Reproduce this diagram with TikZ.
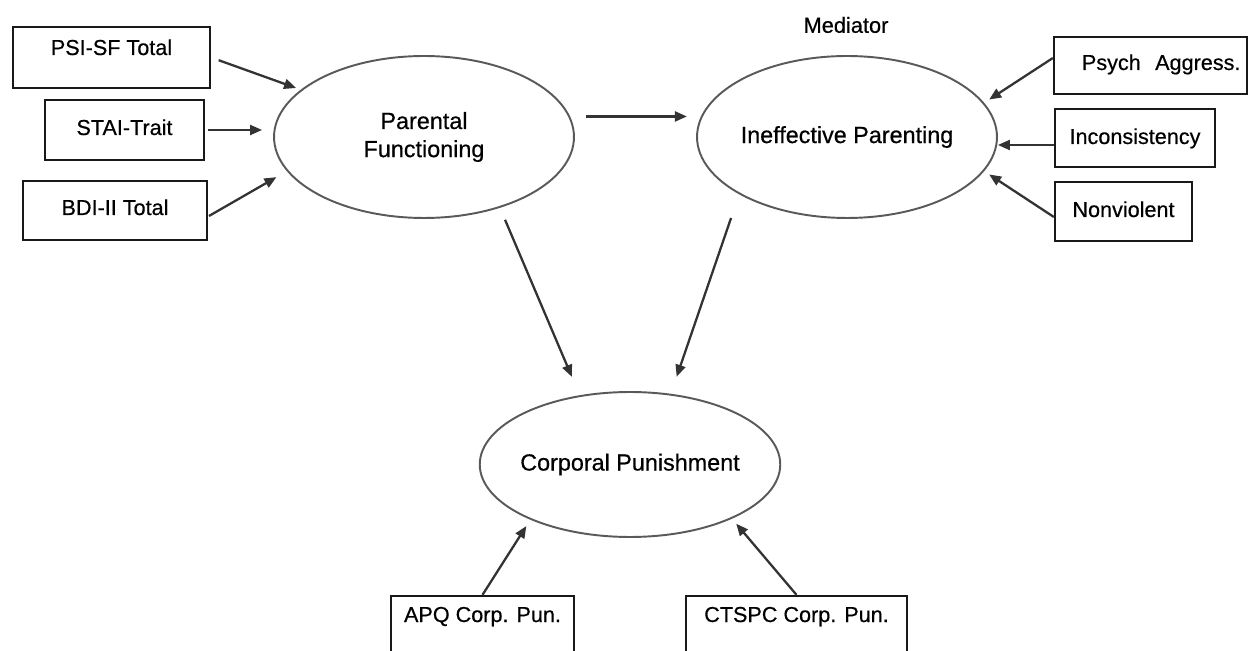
\documentclass[tikz,border=0pt]{standalone}
\usepackage{fontspec}
\setmainfont{Liberation Sans}[FakeBold=0.5]
\usetikzlibrary{arrows.meta, shapes}

\begin{document}
\begin{tikzpicture}[
    % GLOBAL CFG
    x=0.02cm, y=-0.02cm,
    >={Triangle[length=2.4mm, width=2mm]},
    % Styles
    latent/.style={% For the constructs
        ellipse,
        draw=black!65,
        line width=1.1pt,
        inner sep=-2pt,
        minimum width=6cm,
        minimum height=3.24cm,
        align=center,
        font=\fontsize{13.3}{16}\selectfont,
        },
    measure/.style={% For the observed measures
        rectangle,
        draw=black!90,
        line width=1.3pt,
        inner sep=0pt,
        font=\fontsize{12.3}{14}\selectfont,
        },
    mylabel/.style={% Plain text over the mediator
        font=\fontsize{12.4}{14}\selectfont,
        },
    ArrowIn/.style={% Straight arrows
        ->,
        line width=1.3pt,
        draw=black!80,
        },
    ]

    \clip (0,0) rectangle (1248,651);

    % Draw the constructs
    \node [latent] (pf) at (424,137) {Parental\\Functioning};
    \node [latent] (ip) at (847,137) {Ineffective Parenting};
    \node [latent, minimum height=2.9cm] (cp) at (630,464.5) {Corporal Punishment};
    \node [mylabel] (med) at (846,25) {Mediator};

    % Draw measures on the left
    \node [measure, minimum width=3.94cm, text height=0.56cm, text depth=0.66cm] (psi) at (111.5,57.5) {PSI-SF Total};
    \node [measure, minimum width=3.18cm, text height=0.70cm, text depth=0.50cm] (stai) at (124.5,130) {STAI-Trait};
    \node [measure, minimum width=3.68cm, text height=0.68cm, text depth=0.50cm] (bdi) at (115,210.5) {BDI-II Total};

    % Draw measures on the right
    \node [measure, minimum width=3.86cm, text width=3.6cm, align=right, text height=0.66cm, text depth=0.48cm] (psych) at (1150.5,65.5) {Psych~ Aggress.};
    \node [measure, minimum width=3.20cm, text height=0.70cm, text depth=0.46cm] (incon) at (1135,138) {Inconsistency};
    \node [measure, minimum width=2.74cm, text height=0.70cm, text depth=0.48cm] (nonv) at (1123.5,211.5) {Nonviolent};

    % Draw measures at the bottom
    \node [measure, minimum width=3.66cm, text height=0.52cm, text depth=1.08cm] (apq) at (482.5,636) {APQ Corp. Pun.};
    \node [measure, minimum width=4.42cm, text height=0.52cm, text depth=1.08cm] (ctspc) at (796.5,636) {CTSPC Corp. Pun.};

    % Arrows into parental functioning
    \draw [ArrowIn, shorten <=0.16cm, shorten >=0.1cm] (psi.east) -- (pf.159);
    \draw [ArrowIn, shorten <=0.06cm, shorten >=0.22cm] (stai.east) -- (stai.east -| pf.west);
    \draw [ArrowIn, shorten <=0.02cm, shorten >=0.24cm] ([yshift=-0.12cm]bdi.east) -- (pf.194);

    % Paths between constructs
    \draw [ArrowIn, shorten <=0.32cm, shorten >=0.28cm] (pf.8) -- (ip.172);
    \draw [ArrowIn, shorten <=0.26cm, shorten >=0.4cm] (pf.-43) -- (cp.126);
    \draw [ArrowIn, shorten <=0.5cm, shorten >=0.36cm] (ip.208) -- (cp.60);

    % Arrows into ineffective parenting
    \draw [ArrowIn, shorten >=0.12cm] ([yshift=0.15cm]psych.west) -- (ip.14);
    \draw [ArrowIn] ([yshift=-0.14cm]incon.west) -- ([yshift=-0.14cm]incon.west -| ip.east);
    \draw [ArrowIn, shorten >=0.12cm] ([yshift=-0.11cm]nonv.west) -- (ip.-14);

    % Arrows into corporal punishment
    \draw [ArrowIn, shorten >=0.15cm] (apq.north) -- (cp.209);
    \draw [ArrowIn, shorten >=0.13cm] (ctspc.north) -- (cp.-28);

\end{tikzpicture}
\end{document}
